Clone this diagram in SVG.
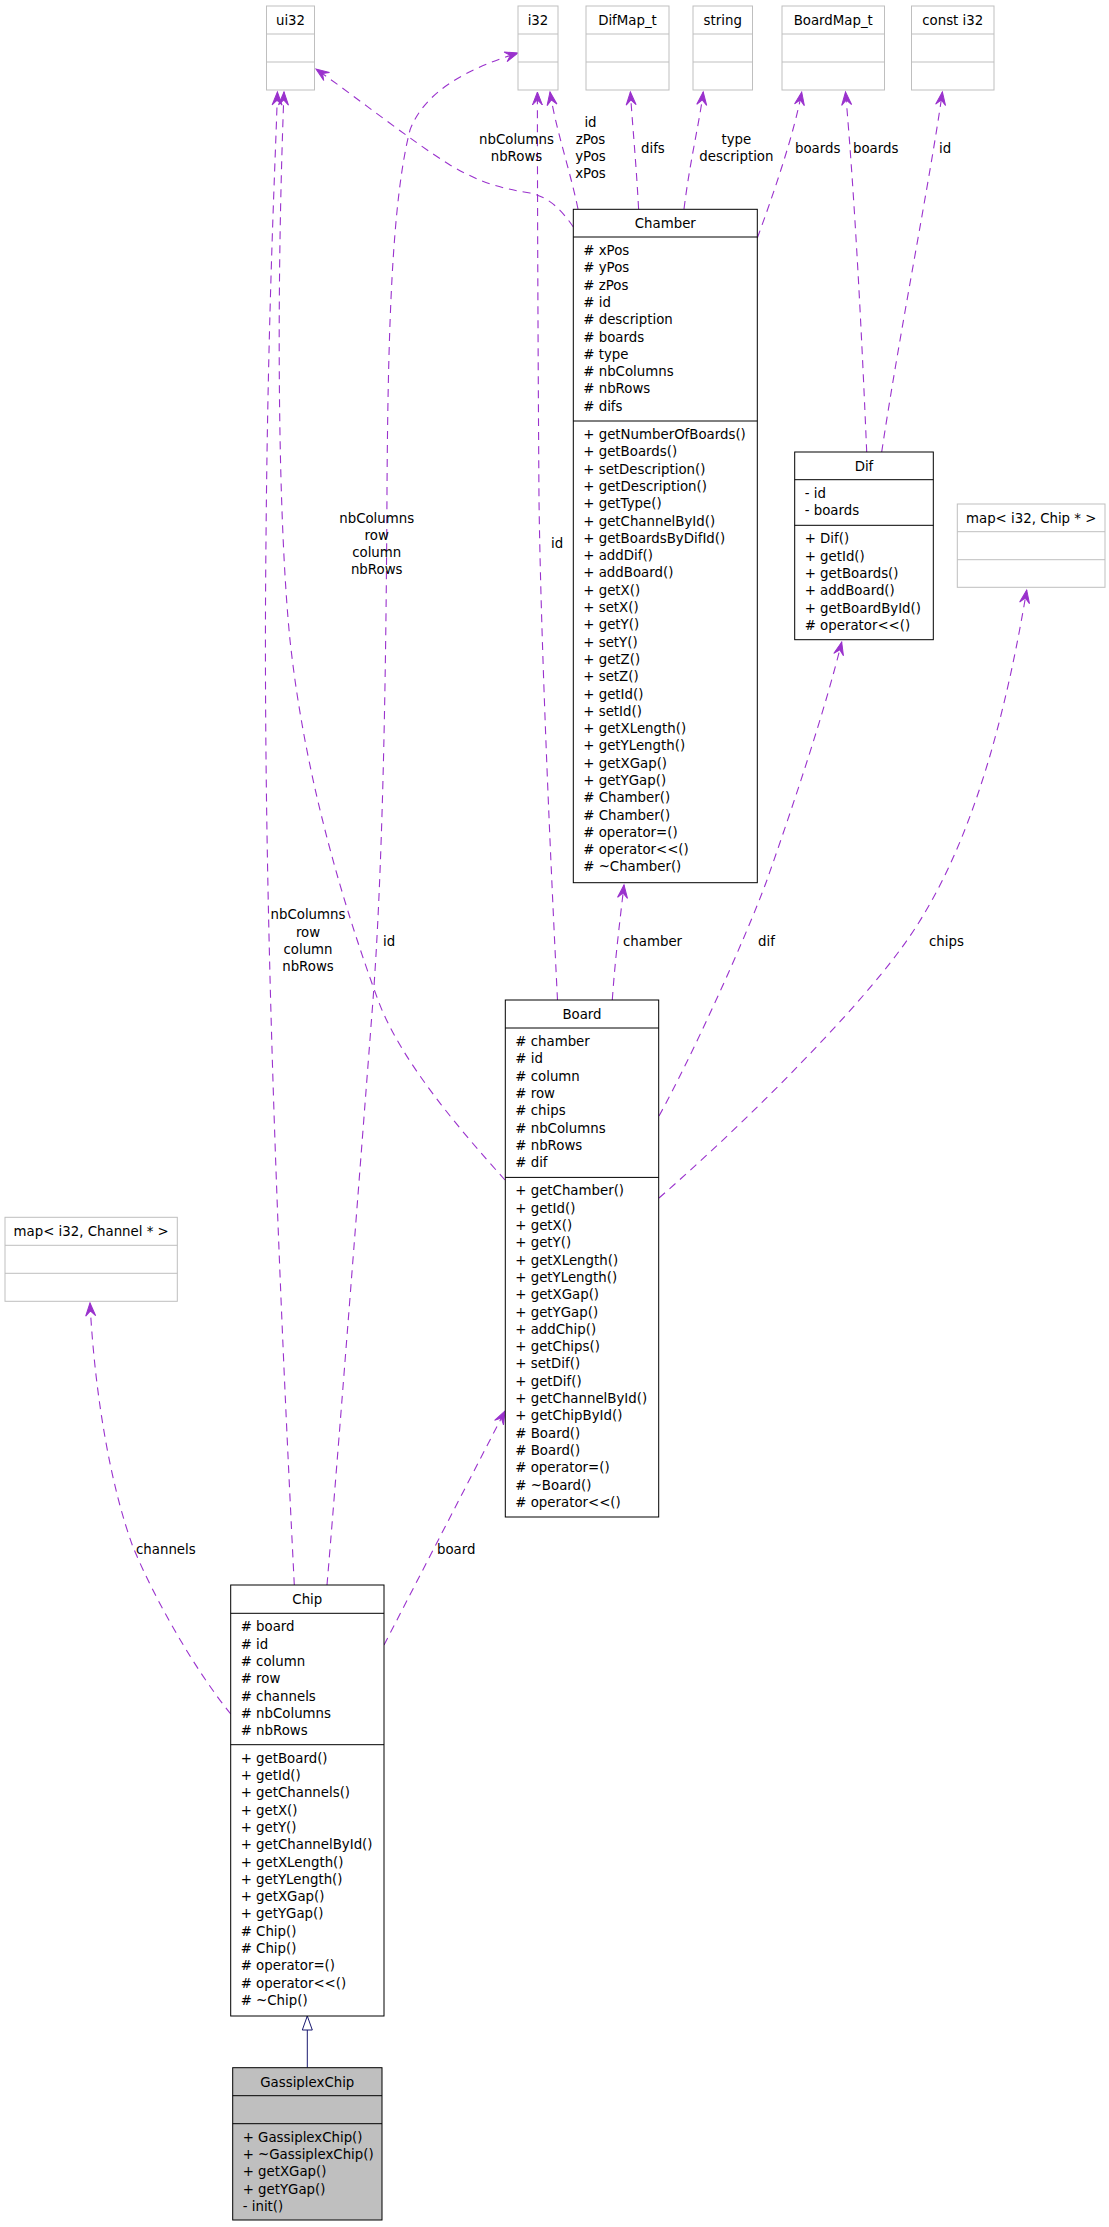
<svg xmlns="http://www.w3.org/2000/svg" width="1109" height="2227" viewBox="0 0 1109 2227">
<style>
text{font-family:"DejaVu Sans","Liberation Sans",sans-serif;font-size:13.33px;fill:#000}
.cls rect,.cls line{fill:#fff;stroke:#000;stroke-width:1}
.ext rect,.ext line{fill:#fff;stroke:#bfbfbf;stroke-width:1}
.sel rect{fill:#bfbfbf;stroke:#000;stroke-width:1}
.sel line{stroke:#000;stroke-width:1}
.hd{text-anchor:middle}
.edge{fill:none;stroke:#9a32cd;stroke-width:1.1;stroke-dasharray:8,6}
.inh{fill:none;stroke:#191970;stroke-width:1}
.lbl{text-anchor:middle}
</style>
<defs>
<marker id="arr" markerUnits="userSpaceOnUse" markerWidth="14" markerHeight="12" refX="13" refY="5" orient="auto" overflow="visible">
<path d="M0,0 L13,5 L0,10 L5,5 Z" fill="#9a32cd" stroke="#9a32cd" stroke-width="1"/>
</marker>
<marker id="tri" markerUnits="userSpaceOnUse" markerWidth="15" markerHeight="12" refX="14" refY="5" orient="auto" overflow="visible">
<path d="M0,0 L14,5 L0,10 Z" fill="#fff" stroke="#191970" stroke-width="1"/>
</marker>
</defs>
<rect x="0" y="0" width="1109" height="2227" fill="#fff"/>

<g id="connectors">
<path id="e-chamber-ui32" class="edge" d="M573.3,227 C563,212 550,197 530,193 C505,189 482,184 450,165 C410,140 360,100 316,69" marker-end="url(#arr)"/>
<path id="e-chamber-i32" class="edge" d="M578,209 C570,170 556,130 550,92" marker-end="url(#arr)"/>
<path id="e-chamber-difmap" class="edge" d="M638.6,209 C636,160 632,120 630.4,92" marker-end="url(#arr)"/>
<path id="e-chamber-string" class="edge" d="M684,209 C690,160 700,120 703.2,92" marker-end="url(#arr)"/>
<path id="e-chamber-boardmap" class="edge" d="M757.3,238 C775,190 795,130 801.7,92" marker-end="url(#arr)"/>
<path id="e-dif-boardmap" class="edge" d="M866.7,452 C862,340 855,200 845.5,92" marker-end="url(#arr)"/>
<path id="e-dif-consti32" class="edge" d="M881.7,452 C900,330 930,180 942.4,92" marker-end="url(#arr)"/>
<path id="e-board-chamber" class="edge" d="M612.3,1000 C615,960 620,920 624,885" marker-end="url(#arr)"/>
<path id="e-board-dif" class="edge" d="M659,1116 C690,1060 745,940 767,880 C795,800 825,710 841.7,642" marker-end="url(#arr)"/>
<path id="e-board-mapchip" class="edge" d="M659,1198 C760,1110 860,1005 900,950 C960,870 1000,750 1026.7,590" marker-end="url(#arr)"/>
<path id="e-board-i32" class="edge" d="M557.5,1000 C551,870 541,650 539,500 C538,350 537.4,200 537.4,92" marker-end="url(#arr)"/>
<path id="e-board-ui32" class="edge" d="M505,1180 C460,1130 400,1060 378,1000 C345,910 305,780 290,640 C278,520 276,300 284,92" marker-end="url(#arr)"/>
<path id="e-chip-ui32" class="edge" d="M294.3,1585 C280,1300 262,900 266,540 C268,300 276,150 277.4,92" marker-end="url(#arr)"/>
<path id="e-chip-i32" class="edge" d="M327,1585 C335,1490 350,1300 373,1000 C382,880 386,700 387,490 C388,330 392,200 410,130 C425,90 470,68 518,53" marker-end="url(#arr)"/>
<path id="e-chip-mapchannel" class="edge" d="M230.7,1714 C195,1670 155,1600 133,1547 C112,1490 95,1400 90,1303" marker-end="url(#arr)"/>
<path id="e-chip-board" class="edge" d="M384,1645 L505,1411" marker-end="url(#arr)"/>
<path id="e-gassiplex-chip" class="inh" d="M307.3,2067.7 L307.3,2016" marker-end="url(#tri)"/>

<text class="lbl" x="516.5" y="144">nbColumns</text>
<text class="lbl" x="516.5" y="161">nbRows</text>
<text class="lbl" x="590.5" y="127">id</text>
<text class="lbl" x="590.5" y="144">zPos</text>
<text class="lbl" x="590.5" y="161">yPos</text>
<text class="lbl" x="590.5" y="178">xPos</text>
<text x="641" y="153">difs</text>
<text class="lbl" x="736.4" y="144">type</text>
<text class="lbl" x="736.4" y="161">description</text>
<text x="795" y="153">boards</text>
<text x="853" y="153">boards</text>
<text x="939" y="153">id</text>
<text class="lbl" x="376.7" y="523">nbColumns</text>
<text class="lbl" x="376.7" y="540">row</text>
<text class="lbl" x="376.7" y="557">column</text>
<text class="lbl" x="376.7" y="574">nbRows</text>
<text x="551" y="548">id</text>
<text class="lbl" x="308" y="919.3">nbColumns</text>
<text class="lbl" x="308" y="936.6">row</text>
<text class="lbl" x="308" y="953.9">column</text>
<text class="lbl" x="308" y="971.2">nbRows</text>
<text x="383" y="945.7">id</text>
<text x="623" y="945.7">chamber</text>
<text x="758" y="945.7">dif</text>
<text x="929" y="945.7">chips</text>
<text x="136" y="1554">channels</text>
<text x="437" y="1554">board</text>
</g>

<g id="ui32" class="ext">
<rect x="266.5" y="6" width="48" height="84"/>
<line x1="266.5" y1="34" x2="314.5" y2="34"/><line x1="266.5" y1="62" x2="314.5" y2="62"/>
<text class="hd" x="290.5" y="25">ui32</text>
</g>
<g id="i32" class="ext">
<rect x="518" y="6" width="40" height="84"/>
<line x1="518" y1="34" x2="558" y2="34"/><line x1="518" y1="62" x2="558" y2="62"/>
<text class="hd" x="538" y="25">i32</text>
</g>
<g id="DifMap_t" class="ext">
<rect x="586" y="6" width="83" height="84"/>
<line x1="586" y1="34" x2="669" y2="34"/><line x1="586" y1="62" x2="669" y2="62"/>
<text class="hd" x="627.5" y="25">DifMap_t</text>
</g>
<g id="string" class="ext">
<rect x="693" y="6" width="59.5" height="84"/>
<line x1="693" y1="34" x2="752.5" y2="34"/><line x1="693" y1="62" x2="752.5" y2="62"/>
<text class="hd" x="722.75" y="25">string</text>
</g>
<g id="BoardMap_t" class="ext">
<rect x="782" y="6" width="102.5" height="84"/>
<line x1="782" y1="34" x2="884.5" y2="34"/><line x1="782" y1="62" x2="884.5" y2="62"/>
<text class="hd" x="833.25" y="25">BoardMap_t</text>
</g>
<g id="const_i32" class="ext">
<rect x="911.5" y="6" width="82.5" height="84"/>
<line x1="911.5" y1="34" x2="994" y2="34"/><line x1="911.5" y1="62" x2="994" y2="62"/>
<text class="hd" x="952.75" y="25">const i32</text>
</g>

<g id="Chamber" class="cls">
<rect x="573.3" y="209.3" width="184" height="673.4"/>
<line x1="573.3" y1="237" x2="757.3" y2="237"/><line x1="573.3" y1="421" x2="757.3" y2="421"/>
<text class="hd" x="665.3" y="228.3">Chamber</text>
<text x="583.3" y="255"><tspan x="583.3" dy="0"># xPos</tspan><tspan x="583.3" dy="17.3"># yPos</tspan><tspan x="583.3" dy="17.3"># zPos</tspan><tspan x="583.3" dy="17.3"># id</tspan><tspan x="583.3" dy="17.3"># description</tspan><tspan x="583.3" dy="17.3"># boards</tspan><tspan x="583.3" dy="17.3"># type</tspan><tspan x="583.3" dy="17.3"># nbColumns</tspan><tspan x="583.3" dy="17.3"># nbRows</tspan><tspan x="583.3" dy="17.3"># difs</tspan></text>
<text x="583.3" y="439"><tspan x="583.3" dy="0">+ getNumberOfBoards()</tspan><tspan x="583.3" dy="17.3">+ getBoards()</tspan><tspan x="583.3" dy="17.3">+ setDescription()</tspan><tspan x="583.3" dy="17.3">+ getDescription()</tspan><tspan x="583.3" dy="17.3">+ getType()</tspan><tspan x="583.3" dy="17.3">+ getChannelById()</tspan><tspan x="583.3" dy="17.3">+ getBoardsByDifId()</tspan><tspan x="583.3" dy="17.3">+ addDif()</tspan><tspan x="583.3" dy="17.3">+ addBoard()</tspan><tspan x="583.3" dy="17.3">+ getX()</tspan><tspan x="583.3" dy="17.3">+ setX()</tspan><tspan x="583.3" dy="17.3">+ getY()</tspan><tspan x="583.3" dy="17.3">+ setY()</tspan><tspan x="583.3" dy="17.3">+ getZ()</tspan><tspan x="583.3" dy="17.3">+ setZ()</tspan><tspan x="583.3" dy="17.3">+ getId()</tspan><tspan x="583.3" dy="17.3">+ setId()</tspan><tspan x="583.3" dy="17.3">+ getXLength()</tspan><tspan x="583.3" dy="17.3">+ getYLength()</tspan><tspan x="583.3" dy="17.3">+ getXGap()</tspan><tspan x="583.3" dy="17.3">+ getYGap()</tspan><tspan x="583.3" dy="17.3"># Chamber()</tspan><tspan x="583.3" dy="17.3"># Chamber()</tspan><tspan x="583.3" dy="17.3"># operator=()</tspan><tspan x="583.3" dy="17.3"># operator&lt;&lt;()</tspan><tspan x="583.3" dy="17.3"># ~Chamber()</tspan></text>
</g>

<g id="Dif" class="cls">
<rect x="794.7" y="452" width="138.6" height="187.7"/>
<line x1="794.7" y1="479.7" x2="933.3" y2="479.7"/><line x1="794.7" y1="525.3" x2="933.3" y2="525.3"/>
<text class="hd" x="864" y="471">Dif</text>
<text x="804.7" y="497.7"><tspan x="804.7" dy="0">- id</tspan><tspan x="804.7" dy="17.3">- boards</tspan></text>
<text x="804.7" y="543.3"><tspan x="804.7" dy="0">+ Dif()</tspan><tspan x="804.7" dy="17.3">+ getId()</tspan><tspan x="804.7" dy="17.3">+ getBoards()</tspan><tspan x="804.7" dy="17.3">+ addBoard()</tspan><tspan x="804.7" dy="17.3">+ getBoardById()</tspan><tspan x="804.7" dy="17.3"># operator&lt;&lt;()</tspan></text>
</g>

<g id="map_i32_Chip" class="ext">
<rect x="957.3" y="504" width="147.7" height="83.3"/>
<line x1="957.3" y1="531.7" x2="1105" y2="531.7"/><line x1="957.3" y1="559.7" x2="1105" y2="559.7"/>
<text class="hd" x="1031.2" y="523">map&lt; i32, Chip * &gt;</text>
</g>

<g id="Board" class="cls">
<rect x="505.3" y="1000" width="153.4" height="517"/>
<line x1="505.3" y1="1028" x2="658.7" y2="1028"/><line x1="505.3" y1="1177.4" x2="658.7" y2="1177.4"/>
<text class="hd" x="582" y="1019">Board</text>
<text x="515.3" y="1046"><tspan x="515.3" dy="0"># chamber</tspan><tspan x="515.3" dy="17.3"># id</tspan><tspan x="515.3" dy="17.3"># column</tspan><tspan x="515.3" dy="17.3"># row</tspan><tspan x="515.3" dy="17.3"># chips</tspan><tspan x="515.3" dy="17.3"># nbColumns</tspan><tspan x="515.3" dy="17.3"># nbRows</tspan><tspan x="515.3" dy="17.3"># dif</tspan></text>
<text x="515.3" y="1195.4"><tspan x="515.3" dy="0">+ getChamber()</tspan><tspan x="515.3" dy="17.3">+ getId()</tspan><tspan x="515.3" dy="17.3">+ getX()</tspan><tspan x="515.3" dy="17.3">+ getY()</tspan><tspan x="515.3" dy="17.3">+ getXLength()</tspan><tspan x="515.3" dy="17.3">+ getYLength()</tspan><tspan x="515.3" dy="17.3">+ getXGap()</tspan><tspan x="515.3" dy="17.3">+ getYGap()</tspan><tspan x="515.3" dy="17.3">+ addChip()</tspan><tspan x="515.3" dy="17.3">+ getChips()</tspan><tspan x="515.3" dy="17.3">+ setDif()</tspan><tspan x="515.3" dy="17.3">+ getDif()</tspan><tspan x="515.3" dy="17.3">+ getChannelById()</tspan><tspan x="515.3" dy="17.3">+ getChipById()</tspan><tspan x="515.3" dy="17.3"># Board()</tspan><tspan x="515.3" dy="17.3"># Board()</tspan><tspan x="515.3" dy="17.3"># operator=()</tspan><tspan x="515.3" dy="17.3"># ~Board()</tspan><tspan x="515.3" dy="17.3"># operator&lt;&lt;()</tspan></text>
</g>

<g id="map_i32_Channel" class="ext">
<rect x="5" y="1217.3" width="172.3" height="84"/>
<line x1="5" y1="1245.3" x2="177.3" y2="1245.3"/><line x1="5" y1="1273.3" x2="177.3" y2="1273.3"/>
<text class="hd" x="91.2" y="1236.3">map&lt; i32, Channel * &gt;</text>
</g>

<g id="Chip" class="cls">
<rect x="230.7" y="1585" width="153.3" height="431"/>
<line x1="230.7" y1="1613.3" x2="384" y2="1613.3"/><line x1="230.7" y1="1744.7" x2="384" y2="1744.7"/>
<text class="hd" x="307.3" y="1604">Chip</text>
<text x="240.7" y="1631.3"><tspan x="240.7" dy="0"># board</tspan><tspan x="240.7" dy="17.3"># id</tspan><tspan x="240.7" dy="17.3"># column</tspan><tspan x="240.7" dy="17.3"># row</tspan><tspan x="240.7" dy="17.3"># channels</tspan><tspan x="240.7" dy="17.3"># nbColumns</tspan><tspan x="240.7" dy="17.3"># nbRows</tspan></text>
<text x="240.7" y="1762.7"><tspan x="240.7" dy="0">+ getBoard()</tspan><tspan x="240.7" dy="17.3">+ getId()</tspan><tspan x="240.7" dy="17.3">+ getChannels()</tspan><tspan x="240.7" dy="17.3">+ getX()</tspan><tspan x="240.7" dy="17.3">+ getY()</tspan><tspan x="240.7" dy="17.3">+ getChannelById()</tspan><tspan x="240.7" dy="17.3">+ getXLength()</tspan><tspan x="240.7" dy="17.3">+ getYLength()</tspan><tspan x="240.7" dy="17.3">+ getXGap()</tspan><tspan x="240.7" dy="17.3">+ getYGap()</tspan><tspan x="240.7" dy="17.3"># Chip()</tspan><tspan x="240.7" dy="17.3"># Chip()</tspan><tspan x="240.7" dy="17.3"># operator=()</tspan><tspan x="240.7" dy="17.3"># operator&lt;&lt;()</tspan><tspan x="240.7" dy="17.3"># ~Chip()</tspan></text>
</g>

<g id="GassiplexChip" class="sel">
<rect x="232.7" y="2067.7" width="149.3" height="152.3"/>
<line x1="232.7" y1="2095.7" x2="382" y2="2095.7"/><line x1="232.7" y1="2123.7" x2="382" y2="2123.7"/>
<text class="hd" x="307.3" y="2086.7">GassiplexChip</text>
<text x="242.7" y="2141.7"><tspan x="242.7" dy="0">+ GassiplexChip()</tspan><tspan x="242.7" dy="17.3">+ ~GassiplexChip()</tspan><tspan x="242.7" dy="17.3">+ getXGap()</tspan><tspan x="242.7" dy="17.3">+ getYGap()</tspan><tspan x="242.7" dy="17.3">- init()</tspan></text>
</g>
</svg>
